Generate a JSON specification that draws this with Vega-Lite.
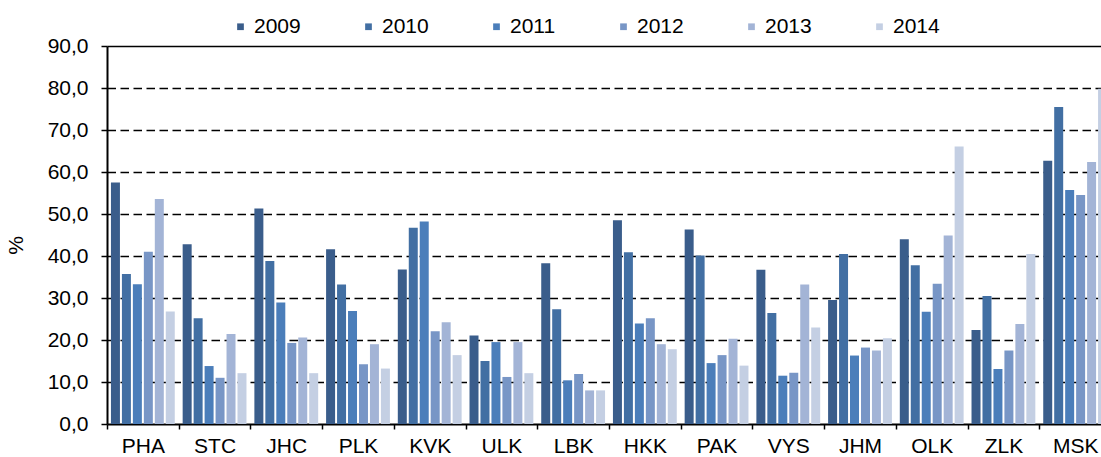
{
  "$schema": "https://vega.github.io/schema/vega-lite/v6.json",
  "autosize": "none",
  "padding": {"left": 107, "top": 46, "right": 0, "bottom": 33},
  "width": 1004,
  "height": 378,
  "background": "white",
  "config": {
    "font": "Liberation Sans",
    "view": {"stroke": null}
  },
  "data": {
    "values": [
      {"kraj": "PHA", "rok": "2009", "v": 57.5}, {"kraj": "PHA", "rok": "2010", "v": 35.7}, {"kraj": "PHA", "rok": "2011", "v": 33.3}, {"kraj": "PHA", "rok": "2012", "v": 41.0}, {"kraj": "PHA", "rok": "2013", "v": 53.6}, {"kraj": "PHA", "rok": "2014", "v": 26.8},
      {"kraj": "STC", "rok": "2009", "v": 42.8}, {"kraj": "STC", "rok": "2010", "v": 25.2}, {"kraj": "STC", "rok": "2011", "v": 13.8}, {"kraj": "STC", "rok": "2012", "v": 11.0}, {"kraj": "STC", "rok": "2013", "v": 21.4}, {"kraj": "STC", "rok": "2014", "v": 12.1},
      {"kraj": "JHC", "rok": "2009", "v": 51.3}, {"kraj": "JHC", "rok": "2010", "v": 38.8}, {"kraj": "JHC", "rok": "2011", "v": 28.9}, {"kraj": "JHC", "rok": "2012", "v": 19.3}, {"kraj": "JHC", "rok": "2013", "v": 20.6}, {"kraj": "JHC", "rok": "2014", "v": 12.1},
      {"kraj": "PLK", "rok": "2009", "v": 41.6}, {"kraj": "PLK", "rok": "2010", "v": 33.2}, {"kraj": "PLK", "rok": "2011", "v": 26.9}, {"kraj": "PLK", "rok": "2012", "v": 14.2}, {"kraj": "PLK", "rok": "2013", "v": 19.0}, {"kraj": "PLK", "rok": "2014", "v": 13.2},
      {"kraj": "KVK", "rok": "2009", "v": 36.8}, {"kraj": "KVK", "rok": "2010", "v": 46.7}, {"kraj": "KVK", "rok": "2011", "v": 48.2}, {"kraj": "KVK", "rok": "2012", "v": 22.1}, {"kraj": "KVK", "rok": "2013", "v": 24.2}, {"kraj": "KVK", "rok": "2014", "v": 16.4},
      {"kraj": "ULK", "rok": "2009", "v": 21.1}, {"kraj": "ULK", "rok": "2010", "v": 15.0}, {"kraj": "ULK", "rok": "2011", "v": 19.5}, {"kraj": "ULK", "rok": "2012", "v": 11.2}, {"kraj": "ULK", "rok": "2013", "v": 19.5}, {"kraj": "ULK", "rok": "2014", "v": 12.1},
      {"kraj": "LBK", "rok": "2009", "v": 38.3}, {"kraj": "LBK", "rok": "2010", "v": 27.3}, {"kraj": "LBK", "rok": "2011", "v": 10.4}, {"kraj": "LBK", "rok": "2012", "v": 11.9}, {"kraj": "LBK", "rok": "2013", "v": 8.0}, {"kraj": "LBK", "rok": "2014", "v": 8.0},
      {"kraj": "HKK", "rok": "2009", "v": 48.5}, {"kraj": "HKK", "rok": "2010", "v": 40.9}, {"kraj": "HKK", "rok": "2011", "v": 23.9}, {"kraj": "HKK", "rok": "2012", "v": 25.2}, {"kraj": "HKK", "rok": "2013", "v": 19.0}, {"kraj": "HKK", "rok": "2014", "v": 17.8},
      {"kraj": "PAK", "rok": "2009", "v": 46.3}, {"kraj": "PAK", "rok": "2010", "v": 40.1}, {"kraj": "PAK", "rok": "2011", "v": 14.5}, {"kraj": "PAK", "rok": "2012", "v": 16.4}, {"kraj": "PAK", "rok": "2013", "v": 20.3}, {"kraj": "PAK", "rok": "2014", "v": 13.9},
      {"kraj": "VYS", "rok": "2009", "v": 36.7}, {"kraj": "VYS", "rok": "2010", "v": 26.4}, {"kraj": "VYS", "rok": "2011", "v": 11.5}, {"kraj": "VYS", "rok": "2012", "v": 12.2}, {"kraj": "VYS", "rok": "2013", "v": 33.2}, {"kraj": "VYS", "rok": "2014", "v": 23.0},
      {"kraj": "JHM", "rok": "2009", "v": 29.5}, {"kraj": "JHM", "rok": "2010", "v": 40.5}, {"kraj": "JHM", "rok": "2011", "v": 16.3}, {"kraj": "JHM", "rok": "2012", "v": 18.2}, {"kraj": "JHM", "rok": "2013", "v": 17.5}, {"kraj": "JHM", "rok": "2014", "v": 20.4},
      {"kraj": "OLK", "rok": "2009", "v": 44.0}, {"kraj": "OLK", "rok": "2010", "v": 37.8}, {"kraj": "OLK", "rok": "2011", "v": 26.7}, {"kraj": "OLK", "rok": "2012", "v": 33.4}, {"kraj": "OLK", "rok": "2013", "v": 44.9}, {"kraj": "OLK", "rok": "2014", "v": 66.1},
      {"kraj": "ZLK", "rok": "2009", "v": 22.4}, {"kraj": "ZLK", "rok": "2010", "v": 30.5}, {"kraj": "ZLK", "rok": "2011", "v": 13.1}, {"kraj": "ZLK", "rok": "2012", "v": 17.5}, {"kraj": "ZLK", "rok": "2013", "v": 23.8}, {"kraj": "ZLK", "rok": "2014", "v": 40.5},
      {"kraj": "MSK", "rok": "2009", "v": 62.7}, {"kraj": "MSK", "rok": "2010", "v": 75.5}, {"kraj": "MSK", "rok": "2011", "v": 55.7}, {"kraj": "MSK", "rok": "2012", "v": 54.5}, {"kraj": "MSK", "rok": "2013", "v": 62.4}, {"kraj": "MSK", "rok": "2014", "v": 79.8}
    ]
  },
  "mark": {"type": "bar"},
  "encoding": {
    "x": {
      "field": "kraj",
      "type": "nominal",
      "sort": null,
      "scale": {"paddingInner": 0, "paddingOuter": 0},
      "axis": {
        "title": null,
        "labelAngle": 0,
        "labelFontSize": 21,
        "labelColor": "black",
        "labelPadding": 6,
        "tickBand": "extent",
        "tickSize": 5,
        "tickColor": "black",
        "tickWidth": 1.5,
        "domainColor": "black",
        "domainWidth": 2,
        "grid": false
      }
    },
    "xOffset": {
      "field": "rok",
      "type": "nominal",
      "scale": {"paddingInner": 0.18, "paddingOuter": 0.36}
    },
    "y": {
      "field": "v",
      "type": "quantitative",
      "scale": {"domain": [0, 90], "nice": false},
      "axis": {
        "title": "%",
        "titleFontSize": 21,
        "titleFontWeight": "normal",
        "titleColor": "black",
        "titleX": -81,
        "titleY": 199,
        "values": [0, 10, 20, 30, 40, 50, 60, 70, 80, 90],
        "labelExpr": "replace(format(datum.value, '.1f'), '.', ',')",
        "labelFontSize": 21,
        "labelColor": "black",
        "labelPadding": 13,
        "tickSize": 6,
        "tickColor": "black",
        "tickWidth": 1.5,
        "domainColor": "black",
        "domainWidth": 2,
        "grid": true,
        "gridColor": "black",
        "gridWidth": 1.6,
        "gridDash": {"condition": {"test": "datum.value == 90", "value": []}, "value": [8.5, 4.5]},
        "gridOpacity": {"condition": {"test": "datum.value == 0", "value": 0}, "value": 1}
      }
    },
    "color": {
      "field": "rok",
      "type": "nominal",
      "scale": {
        "domain": ["2009", "2010", "2011", "2012", "2013", "2014"],
        "range": ["#3a5d8b", "#426fa3", "#4b7eba", "#7896c6", "#a3b4d6", "#c4cfe3"]
      },
      "legend": {
        "title": null,
        "orient": "none",
        "direction": "horizontal",
        "legendX": 123,
        "legendY": -30,
        "columns": 6,
        "symbolType": "square",
        "symbolSize": 45,
        "symbolStrokeWidth": 0,
        "labelFontSize": 21,
        "labelColor": "black",
        "labelOffset": 3,
        "columnPadding": 57
      }
    }
  }
}
